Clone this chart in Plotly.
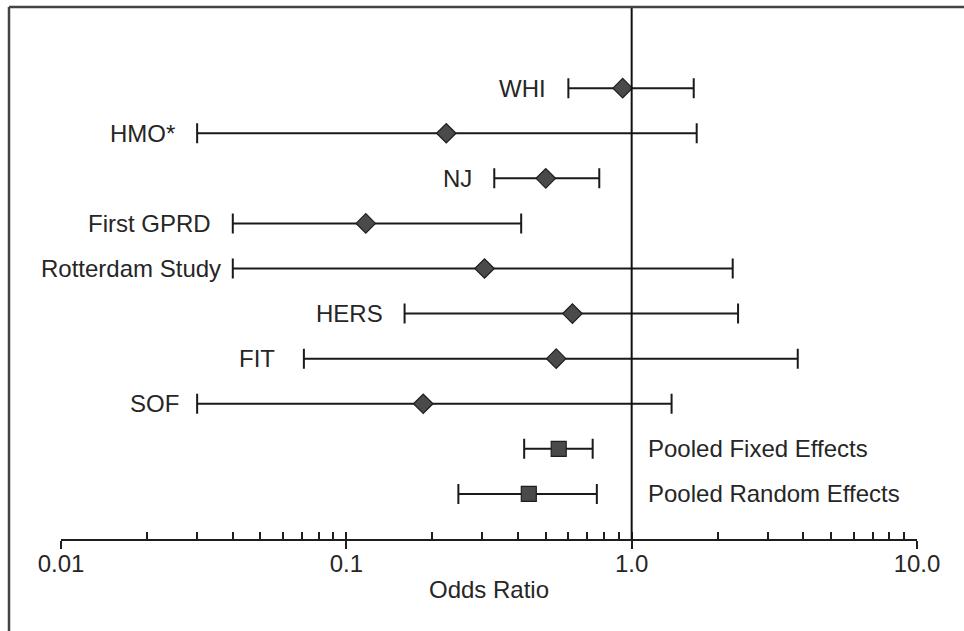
import math
import plotly.graph_objects as go

# ---- data ----
studies = ["WHI", "HMO*", "NJ", "First GPRD", "Rotterdam Study", "HERS", "FIT", "SOF",
           "Pooled Fixed Effects", "Pooled Random Effects"]
odds_ratio = [0.93, 0.224, 0.50, 0.117, 0.305, 0.62, 0.544, 0.186, 0.555, 0.436]
ci_lower = [0.60, 0.030, 0.33, 0.040, 0.040, 0.16, 0.071, 0.030, 0.42, 0.247]
ci_upper = [1.65, 1.69, 0.77, 0.41, 2.26, 2.36, 3.82, 1.38, 0.73, 0.755]
is_pooled = [False] * 8 + [True] * 2

tick_vals = [0.01, 0.1, 1.0, 10.0]
tick_text = ["0.01", "0.1", "1.0", "10.0"]
minor_vals = [m * 10 ** e for e in (-2, -1, 0) for m in range(2, 10)]

# ---- styles ----
FONT = "Liberation Sans, Arial, sans-serif"
FS = 24
TXT = "#262626"
label_gap = {"Rotterdam Study": 10, "FIT": 27, "SOF": 16}

fig = go.Figure()

for pooled, sym, size in [(False, "diamond", 15), (True, "square", 15)]:
    idx = [i for i in range(len(studies)) if is_pooled[i] == pooled]
    fig.add_trace(go.Scatter(
        x=[odds_ratio[i] for i in idx],
        y=[studies[i] for i in idx],
        mode="markers",
        marker=dict(symbol=sym, size=size, color="#4a4a4a",
                    line=dict(color="#1e1e1e", width=1.2)),
        error_x=dict(type="data", symmetric=False,
                     array=[ci_upper[i] - odds_ratio[i] for i in idx],
                     arrayminus=[odds_ratio[i] - ci_lower[i] for i in idx],
                     color="#1a1a1a", thickness=2, width=10),
        showlegend=False, hoverinfo="skip",
    ))

# invisible trace for the overlay axis (major ticks above the line)
fig.add_trace(go.Scatter(x=[1], y=[studies[0]], xaxis="x2", mode="markers",
                         marker=dict(opacity=0), showlegend=False, hoverinfo="skip"))

annotations = []
for i, s in enumerate(studies):
    if is_pooled[i]:
        annotations.append(dict(x=0, xref="x", y=s, yref="y", text=s,
                                xanchor="left", yanchor="middle", xshift=14,
                                showarrow=False, font=dict(family=FONT, size=FS, color=TXT)))
    else:
        annotations.append(dict(x=math.log10(ci_lower[i]), xref="x", y=s, yref="y",
                                text=s, xanchor="right", yanchor="middle",
                                xshift=-label_gap.get(s, 20),
                                showarrow=False, font=dict(family=FONT, size=FS, color=TXT)))

fig.update_layout(
    width=964, height=631,
    margin=dict(l=61, r=47, t=7, b=92),
    paper_bgcolor="white", plot_bgcolor="white",
    font=dict(family=FONT, size=FS, color=TXT),
    annotations=annotations,
    xaxis=dict(type="log", range=[-2, 1], showgrid=False, zeroline=False,
               showline=True, linecolor="#1e1e1e", linewidth=2,
               tickmode="array", tickvals=tick_vals, ticktext=tick_text,
               ticks="outside", ticklen=8, tickwidth=2, tickcolor="#1e1e1e",
               ticklabelstandoff=-6,
               tickfont=dict(family=FONT, size=FS, color=TXT),
               minor=dict(tickmode="array", tickvals=minor_vals, ticks="inside",
                          ticklen=7, tickwidth=2, tickcolor="#1e1e1e"),
               title=dict(text="Odds Ratio", standoff=5,
                          font=dict(family=FONT, size=FS, color=TXT))),
    xaxis2=dict(type="log", range=[-2, 1], overlaying="x", side="bottom", anchor="y",
                showgrid=False, zeroline=False, showline=False,
                tickmode="array", tickvals=tick_vals, showticklabels=False,
                ticks="inside", ticklen=7, tickwidth=2, tickcolor="#1e1e1e"),
    yaxis=dict(type="category", categoryarray=studies, range=[10, -1.8],
               showgrid=False, zeroline=False, showline=False,
               showticklabels=False, ticks=""),
    shapes=[
        dict(type="line", xref="x", yref="paper", x0=1, x1=1, y0=0, y1=1,
             line=dict(color="#111111", width=2)),
        dict(type="line", xref="paper", yref="paper", x0=-52 / 856, x1=903 / 856,
             y0=1, y1=1, line=dict(color="#444444", width=2.5)),
        dict(type="line", xref="paper", yref="paper", x0=-52 / 856, x1=-52 / 856,
             y0=1, y1=-92 / 532, line=dict(color="#444444", width=2.5)),
    ],
)

fig.write_html("out.html", config={"displayModeBar": False},
               post_script="document.body.style.margin='0';document.body.style.overflow='hidden';")
